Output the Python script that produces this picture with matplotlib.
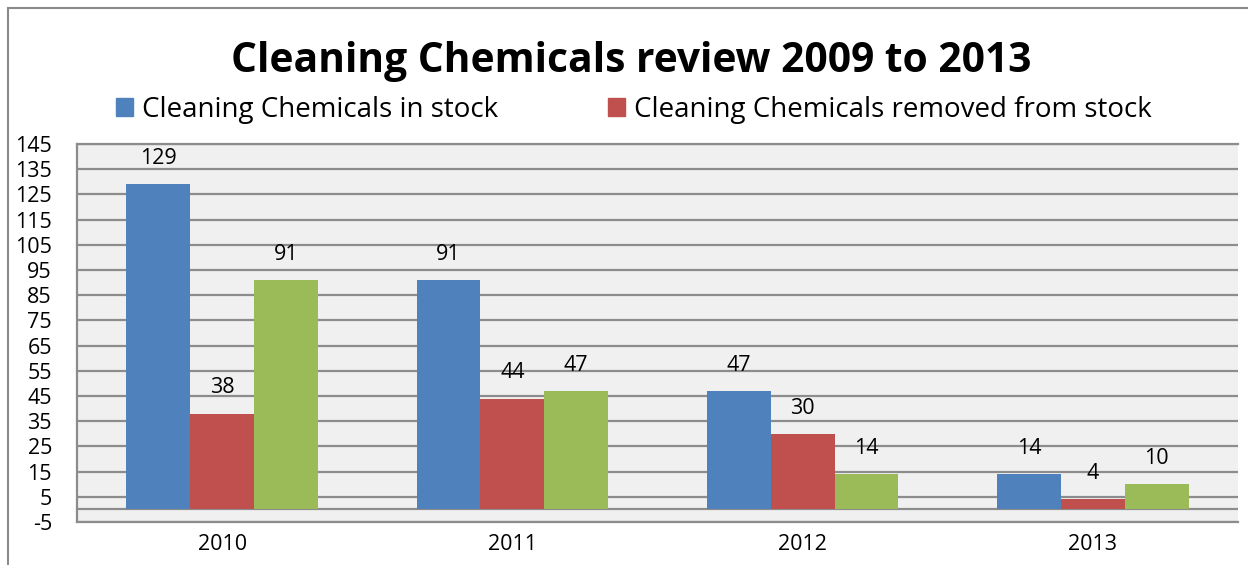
import matplotlib
matplotlib.use("Agg")
import matplotlib.pyplot as plt
import matplotlib.patches as mpatches
import numpy as np

plt.rcParams['font.family'] = ['Open Sans', 'DejaVu Sans']

categories = ["2010", "2011", "2012", "2013"]
in_stock = [129, 91, 47, 14]
removed = [38, 44, 30, 4]
third = [91, 47, 14, 10]
series_names = ["Cleaning Chemicals in stock", "Cleaning Chemicals removed from stock"]
title = "Cleaning Chemicals review 2009 to 2013"
yticks = list(range(-5, 146, 10))

colors = ["#4F81BD", "#C0504D", "#9BBB59"]

W, H = 1248, 565
fig = plt.figure(figsize=(W / 100, H / 100), dpi=100)
fig.patch.set_facecolor("white")

# outer chart frame (partially visible)
frame = mpatches.Rectangle((8 / W, -0.2), 1.5, 1.2 - 8 / H, transform=fig.transFigure,
                           fill=False, edgecolor="#8a8a8a", linewidth=1.5)
fig.patches.append(frame)

ax = fig.add_axes([77 / W, 1 - 522 / H, (1238 - 77) / W, (522 - 144) / H])
ax.set_facecolor("#f0f0f0")

fs = 15.5
x = np.arange(len(categories))
bw = 0.22
all_series = [in_stock, removed, third]
offsets = [-bw, 0, bw]
for vals, off, c in zip(all_series, offsets, colors):
    ax.bar(x + off, vals, width=bw, color=c, zorder=3, linewidth=0)
    for xi, v in zip(x + off, vals):
        ax.annotate(str(v), (xi, v), xytext=(0, 18.5), textcoords="offset points",
                    ha="center", va="center", fontsize=fs, color="black", zorder=4)

ax.set_xlim(-0.5, len(categories) - 0.5)
ax.set_ylim(-5, 145)
ax.set_yticks(yticks)
ax.set_yticklabels([str(t) for t in yticks], fontsize=fs)
ax.set_xticks(x)
ax.set_xticklabels(categories, fontsize=fs)
ax.tick_params(axis="both", length=0)
ax.tick_params(axis="y", pad=18)
ax.tick_params(axis="x", pad=9)

ax.grid(axis="y", color="#8c8c8c", linewidth=1.6, zorder=1)
ax.grid(axis="x", visible=False)
ax.axhline(0, color="#8c8c8c", linewidth=1.6, zorder=2)

ax.spines["right"].set_visible(False)
for s in ["left", "bottom", "top"]:
    ax.spines[s].set_color("#8c8c8c")
    ax.spines[s].set_linewidth(1.6)

fig.text(631 / W, 1 - 61 / H, title, ha="center", va="center", fontsize=29.3,
         fontweight="bold", color="black")

handles = [mpatches.Patch(color=colors[0], label=series_names[0]),
           mpatches.Patch(color=colors[1], label=series_names[1])]
fig.legend(handles=handles, loc="center", bbox_to_anchor=(634 / W, 1 - 110 / H), ncol=2,
           frameon=False, fontsize=20, handlelength=0.62, handleheight=0.62,
           handletextpad=0.32, columnspacing=3.96, borderpad=0, borderaxespad=0)

fig.savefig("out.png", dpi=100)
